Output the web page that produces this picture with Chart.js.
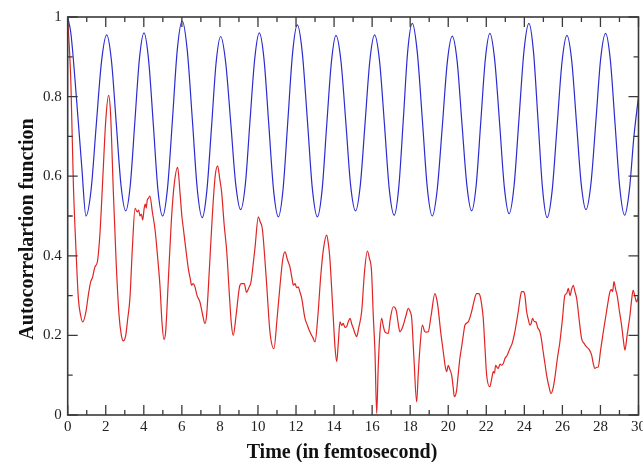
<!DOCTYPE html>
<html>
<head>
<meta charset="utf-8">
<script src="https://cdn.jsdelivr.net/npm/chart.js@4.4.0/dist/chart.umd.min.js"></script>
<style>
  body { margin: 0; background: #fff; }
  canvas { display: block; }
</style>
</head>
<body>
<canvas id="chart" width="643" height="462"></canvas>
<script>
// time axis ticks (fs) and autocorrelation ticks
var xTickLabels = ['0','2','4','6','8','10','12','14','16','18','20','22','24','26','28','30'];
var yTickLabels = ['0','0.2','0.4','0.6','0.8','1'];
var xMinor = [1,3,5,7,9,11,13,15,17,19,21,23,25,27,29];
var yMinor = [0.1,0.3,0.5,0.7,0.9];
var xTitle = 'Time (in femtosecond)';
var yTitle = 'Autocorrelartion function';

// blue curve
var blueT = [0,0.17,0.47,0.74,0.96,
  1.23,1.50,1.78,2.05, 2.30,2.55,2.80,3.05, 3.29,3.53,3.77,4.01, 4.25,4.50,4.74,4.99,
  5.25,5.51,5.76,6.02, 6.28,6.55,6.81,7.07, 7.31,7.56,7.80,8.04, 8.30,8.57,8.83,9.09,
  9.34,9.58,9.83,10.07, 10.32,10.57,10.82,11.07, 11.32,11.57,11.82,12.07, 12.33,12.60,12.86,13.12,
  13.37,13.61,13.86,14.10, 14.36,14.62,14.87,15.13, 15.38,15.63,15.88,16.13, 16.39,16.65,16.90,17.16,
  17.40,17.64,17.87,18.11, 18.37,18.64,18.90,19.16, 19.42,19.69,19.95,20.21, 20.47,20.72,20.98,21.23,
  21.47,21.71,21.95,22.19, 22.44,22.70,22.95,23.20, 23.46,23.72,23.98,24.24, 24.48,24.72,24.96,25.20,
  25.46,25.72,25.98,26.24, 26.49,26.74,26.99,27.24, 27.50,27.76,28.01,28.27, 28.52,28.77,29.02,29.27,
  29.52,29.76,30.0];
var blueY = [1.0,0.958,0.79,0.623,0.50,
  0.566,0.728,0.889,0.955, 0.89,0.734,0.578,0.513, 0.578,0.737,0.895,0.96, 0.893,0.73,0.567,0.50,
  0.572,0.745,0.918,0.99, 0.918,0.743,0.568,0.496, 0.562,0.724,0.885,0.951, 0.887,0.734,0.58,0.516,
  0.581,0.738,0.895,0.96, 0.893,0.729,0.565,0.498, 0.568,0.739,0.91,0.98, 0.91,0.739,0.568,0.498,
  0.565,0.726,0.887,0.954, 0.89,0.734,0.577,0.513, 0.578,0.734,0.89,0.955, 0.889,0.729,0.568,0.502,
  0.572,0.743,0.914,0.984, 0.913,0.742,0.571,0.50, 0.566,0.726,0.886,0.952, 0.888,0.733,0.577,0.513,
  0.578,0.736,0.894,0.959, 0.893,0.733,0.572,0.506, 0.576,0.745,0.914,0.984, 0.913,0.74,0.567,0.496,
  0.563,0.725,0.887,0.954, 0.89,0.735,0.58,0.516, 0.581,0.738,0.894,0.959, 0.892,0.73,0.569,0.502,
  0.565,0.70,0.80];

// red curve
var redT = [0,0.08,0.17,0.30,0.44,0.56,0.68,0.79,0.96,1.08,1.21,1.30,1.43,1.56,1.70,1.85,2.00,2.15,2.25,2.40,
  2.55,2.70,2.82,2.92,3.05,3.15,3.27,3.40,3.54,3.66,3.73,3.80,3.87,3.94,4.02,4.08,4.13,4.18,4.25,4.32,
  4.45,4.59,4.72,4.85,4.96,5.06,5.15,5.30,5.45,5.60,5.78,5.90,6.00,6.08,6.20,6.34,6.45,6.51,6.60,6.69,
  6.80,6.95,7.10,7.21,7.30,7.45,7.60,7.75,7.88,8.00,8.09,8.22,8.36,8.50,8.60,8.70,8.85,9.05,9.14,9.28,
  9.40,9.52,9.63,9.75,9.84,10.02,10.12,10.23,10.35,10.46,10.63,10.84,11.00,11.16,11.30,11.42,11.55,11.68,11.80,11.86,
  11.95,12.03,12.12,12.20,12.30,12.47,12.60,12.73,12.88,13.00,13.15,13.30,13.45,13.61,13.70,13.78,13.87,13.96,14.05,14.14,
  14.22,14.31,14.40,14.48,14.57,14.66,14.75,14.84,14.92,15.01,15.10,15.19,15.30,15.45,15.60,15.75,15.85,15.97,16.06,16.15,
  16.24,16.32,16.40,16.50,16.58,16.67,16.76,16.85,16.95,17.11,17.20,17.28,17.37,17.46,17.55,17.64,17.78,17.90,18.00,18.08,
  18.20,18.34,18.42,18.51,18.64,18.76,18.85,18.95,19.10,19.30,19.40,19.47,19.60,19.74,19.85,19.92,20.00,20.08,20.18,20.26,
  20.32,20.44,20.52,20.61,20.70,20.79,20.88,21.05,21.23,21.35,21.49,21.60,21.67,21.75,21.84,21.93,22.02,22.19,22.28,22.37,
  22.43,22.49,22.56,22.63,22.72,22.80,22.90,22.98,23.10,23.24,23.36,23.50,23.68,23.80,23.86,23.94,24.03,24.12,24.21,24.29,
  24.36,24.43,24.52,24.61,24.70,24.82,24.90,24.99,25.08,25.17,25.30,25.40,25.50,25.60,25.73,25.87,26.00,26.13,26.22,26.31,
  26.40,26.48,26.57,26.66,26.75,26.88,27.01,27.14,27.27,27.40,27.54,27.62,27.71,27.80,27.88,28.00,28.15,28.32,28.42,28.50,
  28.58,28.64,28.71,28.80,28.88,29.00,29.11,29.20,29.29,29.40,29.55,29.64,29.72,29.80,29.90,30.00];
var redY = [0.99,0.93,0.83,0.577,0.41,0.293,0.25,0.234,0.26,0.30,0.335,0.345,0.372,0.385,0.46,0.60,0.74,0.803,0.76,0.56,
  0.38,0.25,0.20,0.186,0.20,0.24,0.293,0.42,0.519,0.51,0.515,0.50,0.505,0.49,0.52,0.53,0.52,0.54,0.545,0.55,
  0.51,0.466,0.40,0.324,0.23,0.19,0.21,0.35,0.49,0.58,0.622,0.56,0.50,0.468,0.42,0.368,0.34,0.326,0.33,0.322,
  0.30,0.284,0.25,0.23,0.25,0.37,0.50,0.60,0.626,0.59,0.56,0.48,0.41,0.30,0.23,0.20,0.25,0.326,0.33,0.33,
  0.308,0.32,0.333,0.38,0.418,0.498,0.485,0.468,0.40,0.326,0.209,0.167,0.24,0.326,0.39,0.41,0.39,0.372,0.34,0.326,
  0.33,0.32,0.322,0.31,0.293,0.243,0.225,0.209,0.195,0.184,0.25,0.35,0.42,0.452,0.43,0.393,0.32,0.243,0.17,0.134,
  0.18,0.234,0.225,0.23,0.22,0.222,0.235,0.243,0.23,0.218,0.205,0.197,0.22,0.26,0.36,0.412,0.395,0.36,0.25,0.159,
  0.004,0.12,0.20,0.243,0.225,0.209,0.206,0.205,0.24,0.272,0.27,0.26,0.23,0.209,0.215,0.226,0.25,0.268,0.26,0.243,
  0.14,0.033,0.10,0.167,0.226,0.21,0.208,0.209,0.25,0.305,0.29,0.268,0.21,0.159,0.12,0.109,0.125,0.115,0.10,0.07,
  0.046,0.062,0.10,0.142,0.17,0.20,0.226,0.234,0.26,0.285,0.305,0.305,0.30,0.28,0.243,0.17,0.10,0.071,0.09,0.109,
  0.105,0.125,0.12,0.117,0.128,0.125,0.13,0.142,0.15,0.167,0.18,0.209,0.26,0.30,0.31,0.31,0.30,0.26,0.24,0.226,
  0.23,0.243,0.235,0.234,0.22,0.209,0.19,0.159,0.13,0.10,0.07,0.054,0.065,0.092,0.14,0.184,0.24,0.301,0.305,0.318,
  0.30,0.315,0.326,0.31,0.293,0.24,0.192,0.18,0.171,0.165,0.15,0.13,0.117,0.12,0.12,0.16,0.209,0.26,0.29,0.31,
  0.315,0.31,0.335,0.315,0.30,0.26,0.226,0.19,0.163,0.20,0.25,0.29,0.314,0.30,0.284,0.30];

function pairs(t, y) {
  var out = [];
  for (var i = 0; i < t.length; i++) out.push({x: t[i], y: y[i]});
  return out;
}

var serif = '"Liberation Serif", "DejaVu Serif", serif';
var frameColor = '#3a3a3a';

// frame, inward ticks on all four sides, and the two axis titles
var framePlugin = {
  id: 'frame',
  afterDatasetsDraw: function(chart) {
    var ctx = chart.ctx, a = chart.chartArea;
    var xs = chart.scales.x, ys = chart.scales.y;
    ctx.save();
    ctx.strokeStyle = frameColor;
    ctx.lineWidth = 1.6;
    ctx.strokeRect(a.left, a.top, a.right - a.left, a.bottom - a.top);
    ctx.lineWidth = 1.3;
    ctx.beginPath();
    xTickLabels.forEach(function(l) {
      var px = xs.getPixelForValue(Number(l));
      ctx.moveTo(px, a.bottom); ctx.lineTo(px, a.bottom - 10);
      ctx.moveTo(px, a.top); ctx.lineTo(px, a.top + 10);
    });
    xMinor.forEach(function(v) {
      var px = xs.getPixelForValue(v);
      ctx.moveTo(px, a.bottom); ctx.lineTo(px, a.bottom - 5);
      ctx.moveTo(px, a.top); ctx.lineTo(px, a.top + 5);
    });
    yTickLabels.forEach(function(l) {
      var py = ys.getPixelForValue(Number(l));
      ctx.moveTo(a.left, py); ctx.lineTo(a.left + 10, py);
      ctx.moveTo(a.right, py); ctx.lineTo(a.right - 10, py);
    });
    yMinor.forEach(function(v) {
      var py = ys.getPixelForValue(v);
      ctx.moveTo(a.left, py); ctx.lineTo(a.left + 5, py);
      ctx.moveTo(a.right, py); ctx.lineTo(a.right - 5, py);
    });
    ctx.stroke();

    ctx.fillStyle = '#111';
    ctx.font = 'bold 20px ' + serif;
    ctx.textAlign = 'center';
    ctx.textBaseline = 'alphabetic';
    ctx.fillText(xTitle, 342, 458);
    ctx.translate(33, 229);
    ctx.rotate(-Math.PI / 2);
    ctx.fillText(yTitle, 0, 0);
    ctx.restore();
  }
};

new Chart(document.getElementById('chart'), {
  type: 'line',
  data: {
    datasets: [
      { label: 'blue', data: pairs(blueT, blueY), borderColor: '#2b2bd0', borderWidth: 1.2,
        pointRadius: 0, cubicInterpolationMode: 'monotone' },
      { label: 'red', data: pairs(redT, redY), borderColor: '#e02424', borderWidth: 1.2,
        pointRadius: 0, cubicInterpolationMode: 'monotone' }
    ]
  },
  options: {
    responsive: false,
    animation: false,
    layout: { padding: { top: 17, right: 4.5, left: 0, bottom: 0 } },
    plugins: { legend: { display: false }, tooltip: { enabled: false } },
    scales: {
      x: {
        type: 'linear', min: 0, max: 30,
        grid: { display: false, drawTicks: false },
        border: { display: false },
        afterBuildTicks: function(s) { s.ticks = xTickLabels.map(function(l) { return {value: Number(l)}; }); },
        ticks: {
          autoSkip: false, maxRotation: 0, padding: 3, color: '#222',
          font: { family: serif, size: 15 },
          callback: function(v, i) { return xTickLabels[i]; }
        },
        afterFit: function(s) { s.height = 47; s.paddingLeft = 0; s.paddingRight = 0; }
      },
      y: {
        type: 'linear', min: 0, max: 1,
        grid: { display: false, drawTicks: false },
        border: { display: false },
        afterBuildTicks: function(s) { s.ticks = yTickLabels.map(function(l) { return {value: Number(l)}; }); },
        ticks: {
          padding: 6, color: '#222',
          font: { family: serif, size: 15 },
          callback: function(v, i) { return yTickLabels[i]; }
        },
        afterFit: function(s) { s.width = 67.7; s.paddingTop = 0; s.paddingBottom = 0; }
      }
    }
  },
  plugins: [framePlugin]
});
</script>
</body>
</html>
